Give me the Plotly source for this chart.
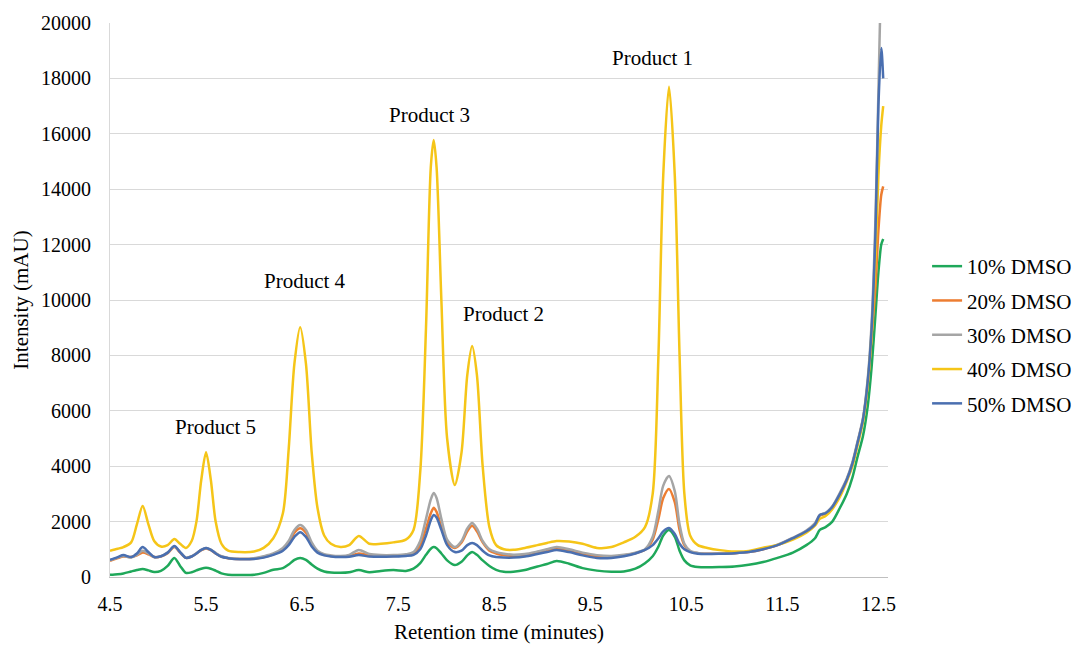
import plotly.graph_objects as go

# Retention time grid (minutes)
rt = [4.50, 4.58, 4.64, 4.72, 4.78, 4.84, 4.90, 4.96, 5.03, 5.10,
      5.17, 5.23, 5.29, 5.35, 5.40, 5.45, 5.50, 5.55, 5.60, 5.66,
      5.73, 5.85, 6.00, 6.10, 6.20, 6.30, 6.36, 6.42, 6.48, 6.54,
      6.60, 6.66, 6.73, 6.80, 6.90, 6.99, 7.09, 7.20, 7.32, 7.45,
      7.58, 7.66, 7.73, 7.79, 7.84, 7.87, 7.90, 7.95, 8.01, 8.09,
      8.16, 8.22, 8.27, 8.32, 8.38, 8.45, 8.52, 8.60, 8.70, 8.82,
      8.95, 9.05, 9.15, 9.28, 9.42, 9.57, 9.72, 9.85, 9.97, 10.07,
      10.15, 10.21, 10.26, 10.32, 10.38, 10.43, 10.48, 10.54, 10.62, 10.72,
      10.85, 11.00, 11.15, 11.30, 11.45, 11.61, 11.75, 11.84, 11.89, 11.95,
      12.02, 12.10, 12.17, 12.23, 12.28, 12.34, 12.39, 12.43, 12.47, 12.50,
      12.53, 12.55]

dmso10 = [80, 100, 130, 200, 250, 290, 240, 180, 220, 400,
          690, 400, 150, 170, 240, 300, 330, 300, 230, 130,
          80, 70, 80, 150, 260, 320, 450, 620, 690, 620,
          450, 300, 200, 160, 150, 170, 250, 170, 220, 250,
          220, 300, 500, 800, 1020, 1080, 1040, 850, 600, 430,
          550, 780, 900, 800, 600, 400, 260, 190, 190, 250,
          380, 470, 580, 480, 320, 230, 190, 200, 300, 500,
          750, 1100, 1500, 1700, 1450, 950, 600, 420, 360, 350,
          360, 380, 440, 540, 690, 880, 1150, 1400, 1700, 1800,
          2000, 2500, 3000, 3600, 4300, 5100, 6200, 7600, 9500, 11000,
          12000, 12200]

dmso20 = [580, 680, 740, 720, 780, 880, 820, 720, 740, 860,
          1080, 880, 690, 740, 850, 970, 1030, 970, 850, 740,
          680, 650, 660, 720, 820, 980, 1200, 1600, 1760, 1600,
          1180, 900, 800, 760, 740, 760, 850, 780, 760, 760,
          790, 850, 1150, 1750, 2300, 2500, 2350, 1800, 1250, 1050,
          1250, 1650, 1850, 1650, 1250, 950, 850, 790, 760, 790,
          870, 940, 1020, 950, 830, 740, 730, 780, 860, 980,
          1350, 2100, 2850, 3180, 2700, 1700, 1150, 920, 860, 840,
          840, 860, 900, 1000, 1150, 1400, 1650, 1900, 2220, 2290,
          2520, 3000, 3500, 4100, 4800, 5700, 7000, 8700, 10500, 12500,
          13800, 14100]

dmso30 = [600, 700, 760, 700, 800, 950, 850, 720, 750, 880,
          1100, 900, 700, 750, 860, 980, 1050, 990, 870, 750,
          690, 660, 680, 750, 850, 1050, 1300, 1700, 1880, 1700,
          1250, 950, 820, 780, 760, 800, 975, 830, 790, 790,
          820, 900, 1300, 2100, 2800, 3030, 2850, 2100, 1350, 1080,
          1300, 1750, 1950, 1750, 1300, 1000, 900, 840, 800, 830,
          920, 1000, 1080, 1000, 880, 790, 760, 800, 880, 1000,
          1450, 2400, 3300, 3650, 3100, 1900, 1200, 950, 870, 840,
          840, 860, 910, 1020, 1170, 1420, 1680, 1950, 2240, 2320,
          2550, 3050, 3550, 4150, 4850, 5750, 7200, 9200, 13000, 17500,
          22000, 24000]

dmso40 = [950, 1020, 1080, 1250, 1900, 2560, 1900, 1300, 1100, 1150,
          1370, 1200, 1050, 1300, 2000, 3500, 4500, 3500, 2000, 1200,
          950, 900, 920, 1050, 1400, 2300, 4600, 7700, 9020, 7700,
          4500, 2500, 1500, 1200, 1080, 1150, 1480, 1200, 1200, 1250,
          1350, 1700, 3800, 9000, 14800, 15780, 14800, 10000, 5000, 3320,
          4500, 7300, 8340, 7300, 4000, 1800, 1150, 1000, 980, 1050,
          1150, 1230, 1300, 1280, 1200, 1050, 1080, 1250, 1450, 1800,
          3000, 8000, 14500, 17700, 14500, 8000, 3000, 1500, 1150, 1050,
          970, 920, 940, 1060, 1160, 1350, 1600, 1850, 2100, 2200,
          2450, 2900, 3450, 4000, 4700, 5600, 7000, 8800, 11500, 14500,
          16300, 17000]

dmso50 = [620, 720, 790, 720, 850, 1080, 900, 720, 750, 880,
          1120, 900, 690, 740, 850, 980, 1050, 980, 850, 730,
          680, 640, 650, 700, 800, 950, 1150, 1450, 1620, 1450,
          1100, 880, 780, 740, 720, 730, 790, 740, 730, 740,
          760, 800, 1000, 1500, 2050, 2240, 2150, 1700, 1150, 900,
          950, 1150, 1230, 1150, 950, 780, 720, 700, 700, 740,
          830, 900, 975, 900, 780, 690, 690, 750, 850, 975,
          1150, 1400, 1650, 1770, 1550, 1200, 1000, 900, 840, 830,
          840, 860, 900, 1000, 1150, 1400, 1650, 1900, 2240, 2300,
          2530, 3000, 3500, 4100, 4800, 5700, 7100, 9000, 12500, 17000,
          19100, 18000]

series_names = ["10% DMSO", "20% DMSO", "30% DMSO", "40% DMSO", "50% DMSO"]
series_values = [dmso10, dmso20, dmso30, dmso40, dmso50]
series_colors = ["#1FA85A", "#ED7D31", "#A5A5A5", "#F5C518", "#4A6FB0"]

x_ticks = [4.5, 5.5, 6.5, 7.5, 8.5, 9.5, 10.5, 11.5, 12.5]
y_ticks = [0, 2000, 4000, 6000, 8000, 10000, 12000, 14000, 16000, 18000, 20000]

labels = ["Product 1", "Product 3", "Product 4", "Product 2", "Product 5"]
label_x = [10.15, 7.83, 6.53, 8.60, 5.60]
label_y = [18740, 16680, 10690, 9490, 5410]

FONT = "Liberation Serif, Times New Roman, serif"

fig = go.Figure()
for name, vals, col in zip(series_names, series_values, series_colors):
    fig.add_trace(go.Scatter(
        x=rt, y=vals, name=name, mode="lines",
        line=dict(color=col, width=2.5, shape="spline", smoothing=0.8),
        legendgroup=name,
    ))

for t, xx, yy in zip(labels, label_x, label_y):
    fig.add_annotation(x=xx, y=yy, text=t, showarrow=False,
                       font=dict(family=FONT, size=21, color="#000000"))

fig.update_layout(
    width=1078, height=645,
    margin=dict(l=110, r=190, t=23, b=68, autoexpand=False),
    paper_bgcolor="white", plot_bgcolor="white",
    font=dict(family=FONT, color="#000000"),
    showlegend=True,
    legend=dict(xref="container", yref="container",
                x=0.860, y=0.6186, xanchor="left", yanchor="top",
                font=dict(family=FONT, size=21, color="#000000"),
                traceorder="grouped", tracegroupgap=4,
                bgcolor="rgba(0,0,0,0)"),
    xaxis=dict(range=[4.5, 12.6], tickmode="array", tickvals=x_ticks,
               ticktext=[str(v) for v in x_ticks],
               showgrid=False, zeroline=False, automargin=False,
               showline=True, linecolor="#BFBFBF", linewidth=1,
               ticks="", ticklabelstandoff=9,
               tickfont=dict(family=FONT, size=20, color="#000000"),
               title=dict(text="Retention time (minutes)", standoff=10,
                          font=dict(family=FONT, size=21, color="#000000"))),
    yaxis=dict(range=[0, 20000], tickmode="array", tickvals=y_ticks,
               ticktext=[str(v) for v in y_ticks],
               showgrid=True, gridcolor="#D9D9D9", gridwidth=1,
               zeroline=False, automargin=False,
               showline=True, linecolor="#D9D9D9", linewidth=1,
               ticks="", ticklabelstandoff=14,
               tickfont=dict(family=FONT, size=20, color="#000000"),
               title=dict(text="Intensity (mAU)", standoff=6,
                          font=dict(family=FONT, size=21, color="#000000"))),
)

fig.write_html("out.html")
